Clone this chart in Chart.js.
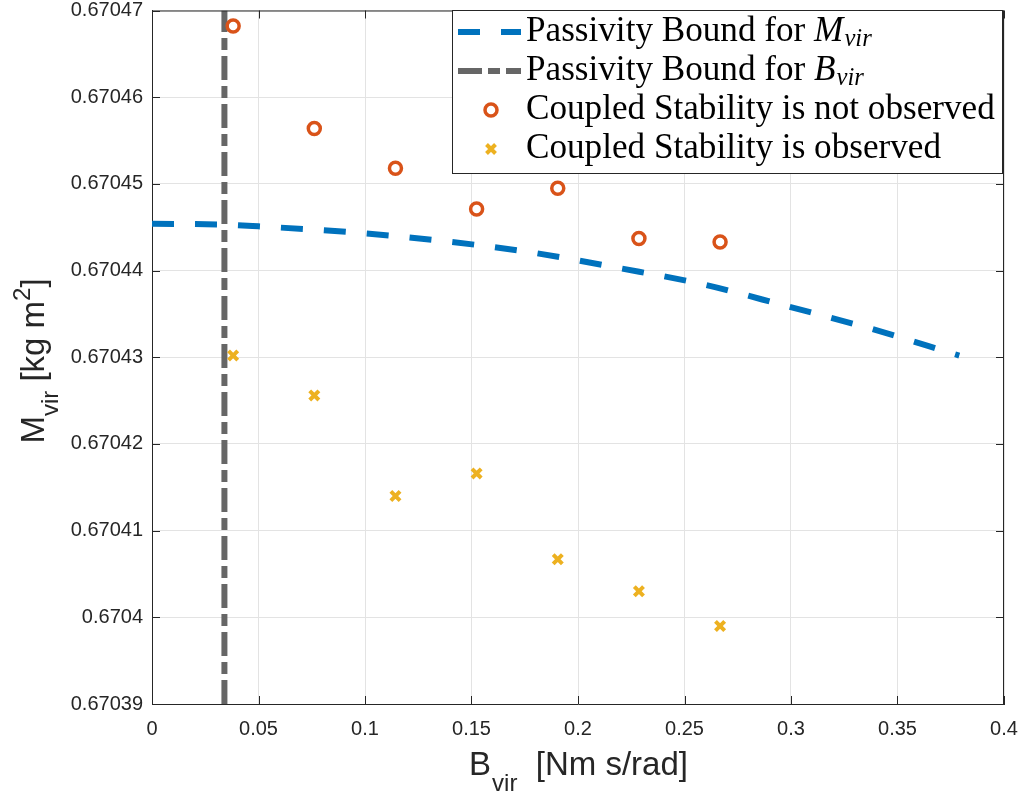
<!DOCTYPE html>
<html>
<head>
<meta charset="utf-8">
<script src="https://cdn.jsdelivr.net/npm/chart.js@4.4.0/dist/chart.umd.min.js"></script>
<style>
html, body { margin: 0; padding: 0; background: #fff; }
#wrap { width: 1021px; height: 794px; }
</style>
</head>
<body>
<div id="wrap"><canvas id="chart" width="1021" height="794"></canvas></div>
<script>
// values
const bVir = [0.0381, 0.0762, 0.1143, 0.1524, 0.1905, 0.2286, 0.2667];
const mNotStable = [0.6704682, 0.6704564, 0.6704518, 0.6704471, 0.6704495, 0.6704437, 0.6704433];
const mStable = [0.6704302, 0.6704256, 0.6704140, 0.6704166, 0.6704067, 0.6704030, 0.6703990];

const boundX = [0, 0.034, 0.05, 0.095, 0.137, 0.178, 0.219, 0.259, 0.298, 0.336, 0.379];
const boundM = [0.6704454, 0.6704453, 0.6704451, 0.6704444, 0.6704434, 0.6704421, 0.6704403, 0.6704384, 0.6704359, 0.6704334, 0.6704302];
const bBound = 0.034;

const xTicks = [0, 0.05, 0.1, 0.15, 0.2, 0.25, 0.3, 0.35, 0.4];
const xTickLabels = ['0', '0.05', '0.1', '0.15', '0.2', '0.25', '0.3', '0.35', '0.4'];
const yTicks = [0.67039, 0.6704, 0.67041, 0.67042, 0.67043, 0.67044, 0.67045, 0.67046, 0.67047];
const yTickLabels = ['0.67039', '0.6704', '0.67041', '0.67042', '0.67043', '0.67044', '0.67045', '0.67046', '0.67047'];

const blue = '#0072BD';
const gray = '#666666';
const orange = '#D95319';
const yellow = '#EDB120';
const axisColor = '#262626';
const sans = '"Liberation Sans", Arial, sans-serif';
const serif = '"Liberation Serif", "Times New Roman", serif';

// box, inward ticks, axis titles and legend
const matlabLook = {
    id: 'matlabLook',
    afterDraw: function (chart) {
        const ctx = chart.ctx;
        const a = chart.chartArea;
        const xs = chart.scales.x;
        const ys = chart.scales.y;

        ctx.save();
        ctx.strokeStyle = axisColor;
        ctx.lineWidth = 1;
        ctx.beginPath();
        ctx.moveTo(a.left, a.top + 0.5);
        ctx.lineTo(a.right, a.top + 0.5);
        ctx.moveTo(a.right - 0.5, a.top);
        ctx.lineTo(a.right - 0.5, a.bottom);
        xTicks.forEach(v => {
            const x = Math.round(xs.getPixelForValue(v)) + 0.5;
            ctx.moveTo(x, a.bottom);
            ctx.lineTo(x, a.bottom - 8);
            ctx.moveTo(x, a.top);
            ctx.lineTo(x, a.top + 8);
        });
        yTicks.forEach(v => {
            const y = Math.round(ys.getPixelForValue(v)) + 0.5;
            ctx.moveTo(a.left, y);
            ctx.lineTo(a.left + 8, y);
            ctx.moveTo(a.right, y);
            ctx.lineTo(a.right - 8, y);
        });
        ctx.stroke();

        // x title
        ctx.fillStyle = axisColor;
        ctx.textBaseline = 'alphabetic';
        ctx.textAlign = 'left';
        const big = '33px ' + sans;
        const small = '24px ' + sans;
        ctx.font = big;
        const wB = ctx.measureText('B').width;
        const wRest = ctx.measureText('  [Nm s/rad]').width;
        ctx.font = small;
        const wVir = ctx.measureText('vir').width;
        let x0 = 578 - (wB + wVir + wRest) / 2;
        ctx.font = big;
        ctx.fillText('B', x0, 775);
        ctx.font = small;
        ctx.fillText('vir', x0 + wB + 1, 791);
        ctx.font = big;
        ctx.fillText('  [Nm s/rad]', x0 + wB + wVir + 1, 775);

        // y title
        ctx.save();
        ctx.translate(44, 361);
        ctx.rotate(-Math.PI / 2);
        ctx.font = big;
        const wM = ctx.measureText('M').width;
        const wKg = ctx.measureText(' [kg m').width;
        const wBr = ctx.measureText(']').width;
        ctx.font = small;
        const wV2 = ctx.measureText('vir').width;
        const w2 = ctx.measureText('2').width;
        let p = -(wM + wV2 + wKg + w2 + wBr) / 2;
        ctx.font = big;
        ctx.fillText('M', p, 0);
        p += wM;
        ctx.font = small;
        ctx.fillText('vir', p, 14);
        p += wV2;
        ctx.font = big;
        ctx.fillText(' [kg m', p, 0);
        p += wKg;
        ctx.font = small;
        ctx.fillText('2', p, -14);
        p += w2;
        ctx.font = big;
        ctx.fillText(']', p, 0);
        ctx.restore();

        // legend
        const lx = 452, ly = 10, lw = 550, lh = 163;
        ctx.fillStyle = '#ffffff';
        ctx.fillRect(lx, ly, lw, lh);
        ctx.strokeStyle = axisColor;
        ctx.lineWidth = 1;
        ctx.strokeRect(lx + 0.5, ly + 0.5, lw, lh);

        // size the serif font so the longest entry fills the box like the original
        ctx.font = '34px ' + serif;
        const longW = ctx.measureText('Coupled Stability is not observed').width;
        const fs = Math.min(40, 34 * 469 / longW);
        const fsSub = fs * 0.7;
        const tx = 526;
        const rows = [32, 71, 110, 149];

        ctx.lineWidth = 6;
        ctx.strokeStyle = blue;
        ctx.setLineDash([22, 21]);
        ctx.beginPath();
        ctx.moveTo(458, rows[0]);
        ctx.lineTo(521, rows[0]);
        ctx.stroke();
        ctx.strokeStyle = gray;
        ctx.setLineDash([24, 6, 12, 6]);
        ctx.beginPath();
        ctx.moveTo(458, rows[1]);
        ctx.lineTo(521, rows[1]);
        ctx.stroke();
        ctx.setLineDash([]);

        ctx.lineWidth = 3.5;
        ctx.strokeStyle = orange;
        ctx.fillStyle = '#ffffff';
        ctx.beginPath();
        ctx.arc(491, rows[2], 6, 0, 2 * Math.PI);
        ctx.fill();
        ctx.stroke();
        ctx.lineWidth = 4;
        ctx.strokeStyle = yellow;
        ctx.beginPath();
        ctx.moveTo(486.5, rows[3] - 4.5);
        ctx.lineTo(495.5, rows[3] + 4.5);
        ctx.moveTo(495.5, rows[3] - 4.5);
        ctx.lineTo(486.5, rows[3] + 4.5);
        ctx.stroke();

        ctx.fillStyle = '#000000';
        ctx.textBaseline = 'middle';
        const mathEntry = (label, sym, y) => {
            ctx.font = fs + 'px ' + serif;
            ctx.fillText(label, tx, y);
            let px = tx + ctx.measureText(label).width;
            ctx.font = 'italic ' + fs + 'px ' + serif;
            ctx.fillText(sym, px, y);
            px += ctx.measureText(sym).width + 1;
            ctx.font = 'italic ' + fsSub + 'px ' + serif;
            ctx.fillText('vir', px, y + 8);
        };
        mathEntry('Passivity Bound for ', 'M', rows[0]);
        mathEntry('Passivity Bound for ', 'B', rows[1]);
        ctx.font = fs + 'px ' + serif;
        ctx.fillText('Coupled Stability is not observed', tx, rows[2]);
        ctx.fillText('Coupled Stability is observed', tx, rows[3]);
        ctx.restore();
    }
};

const ctx = document.getElementById('chart').getContext('2d');
new Chart(ctx, {
    type: 'scatter',
    data: {
        datasets: [
            {
                label: 'Coupled Stability is not observed',
                data: bVir.map((b, i) => ({ x: b, y: mNotStable[i] })),
                pointStyle: 'circle',
                pointRadius: 6,
                pointBorderWidth: 3.5,
                borderColor: orange,
                backgroundColor: '#ffffff',
                order: 1
            },
            {
                label: 'Coupled Stability is observed',
                data: bVir.map((b, i) => ({ x: b, y: mStable[i] })),
                pointStyle: 'crossRot',
                pointRadius: 6.5,
                pointBorderWidth: 4,
                borderColor: yellow,
                backgroundColor: yellow,
                order: 2
            },
            {
                type: 'line',
                label: 'Passivity Bound for B_vir',
                data: [{ x: bBound, y: yTicks[0] }, { x: bBound, y: yTicks[yTicks.length - 1] }],
                borderColor: gray,
                borderWidth: 6,
                borderDash: [24, 6, 12, 6],
                pointRadius: 0,
                fill: false,
                order: 3
            },
            {
                type: 'line',
                label: 'Passivity Bound for M_vir',
                data: boundX.map((b, i) => ({ x: b, y: boundM[i] })),
                borderColor: blue,
                borderWidth: 6,
                borderDash: [22, 21],
                cubicInterpolationMode: 'monotone',
                pointRadius: 0,
                fill: false,
                order: 4
            }
        ]
    },
    options: {
        responsive: false,
        animation: false,
        layout: { padding: { top: 7, right: 17, left: 0, bottom: 0 } },
        plugins: {
            legend: { display: false },
            tooltip: { enabled: false }
        },
        scales: {
            x: {
                type: 'linear',
                min: 0,
                max: 0.4,
                afterBuildTicks: s => { s.ticks = xTicks.map(v => ({ value: v })); },
                afterFit: s => { s.height = 90; s.paddingLeft = 0; s.paddingRight = 0; },
                grid: { color: '#e3e3e3', lineWidth: 1, drawTicks: false },
                border: { display: true, color: axisColor, width: 1 },
                ticks: {
                    callback: (v, i) => xTickLabels[i],
                    font: { family: sans, size: 20 },
                    color: axisColor,
                    padding: 13,
                    maxRotation: 0,
                    autoSkip: false
                }
            },
            y: {
                type: 'linear',
                min: 0.67039,
                max: 0.67047,
                afterBuildTicks: s => { s.ticks = yTicks.map(v => ({ value: v })); },
                afterFit: s => { s.width = 152; s.paddingTop = 0; s.paddingBottom = 0; },
                grid: { color: '#e3e3e3', lineWidth: 1, drawTicks: false },
                border: { display: true, color: axisColor, width: 1 },
                ticks: {
                    callback: (v, i) => yTickLabels[i],
                    font: { family: sans, size: 20 },
                    color: axisColor,
                    padding: 9,
                    autoSkip: false
                }
            }
        }
    },
    plugins: [matlabLook]
});
</script>
</body>
</html>
